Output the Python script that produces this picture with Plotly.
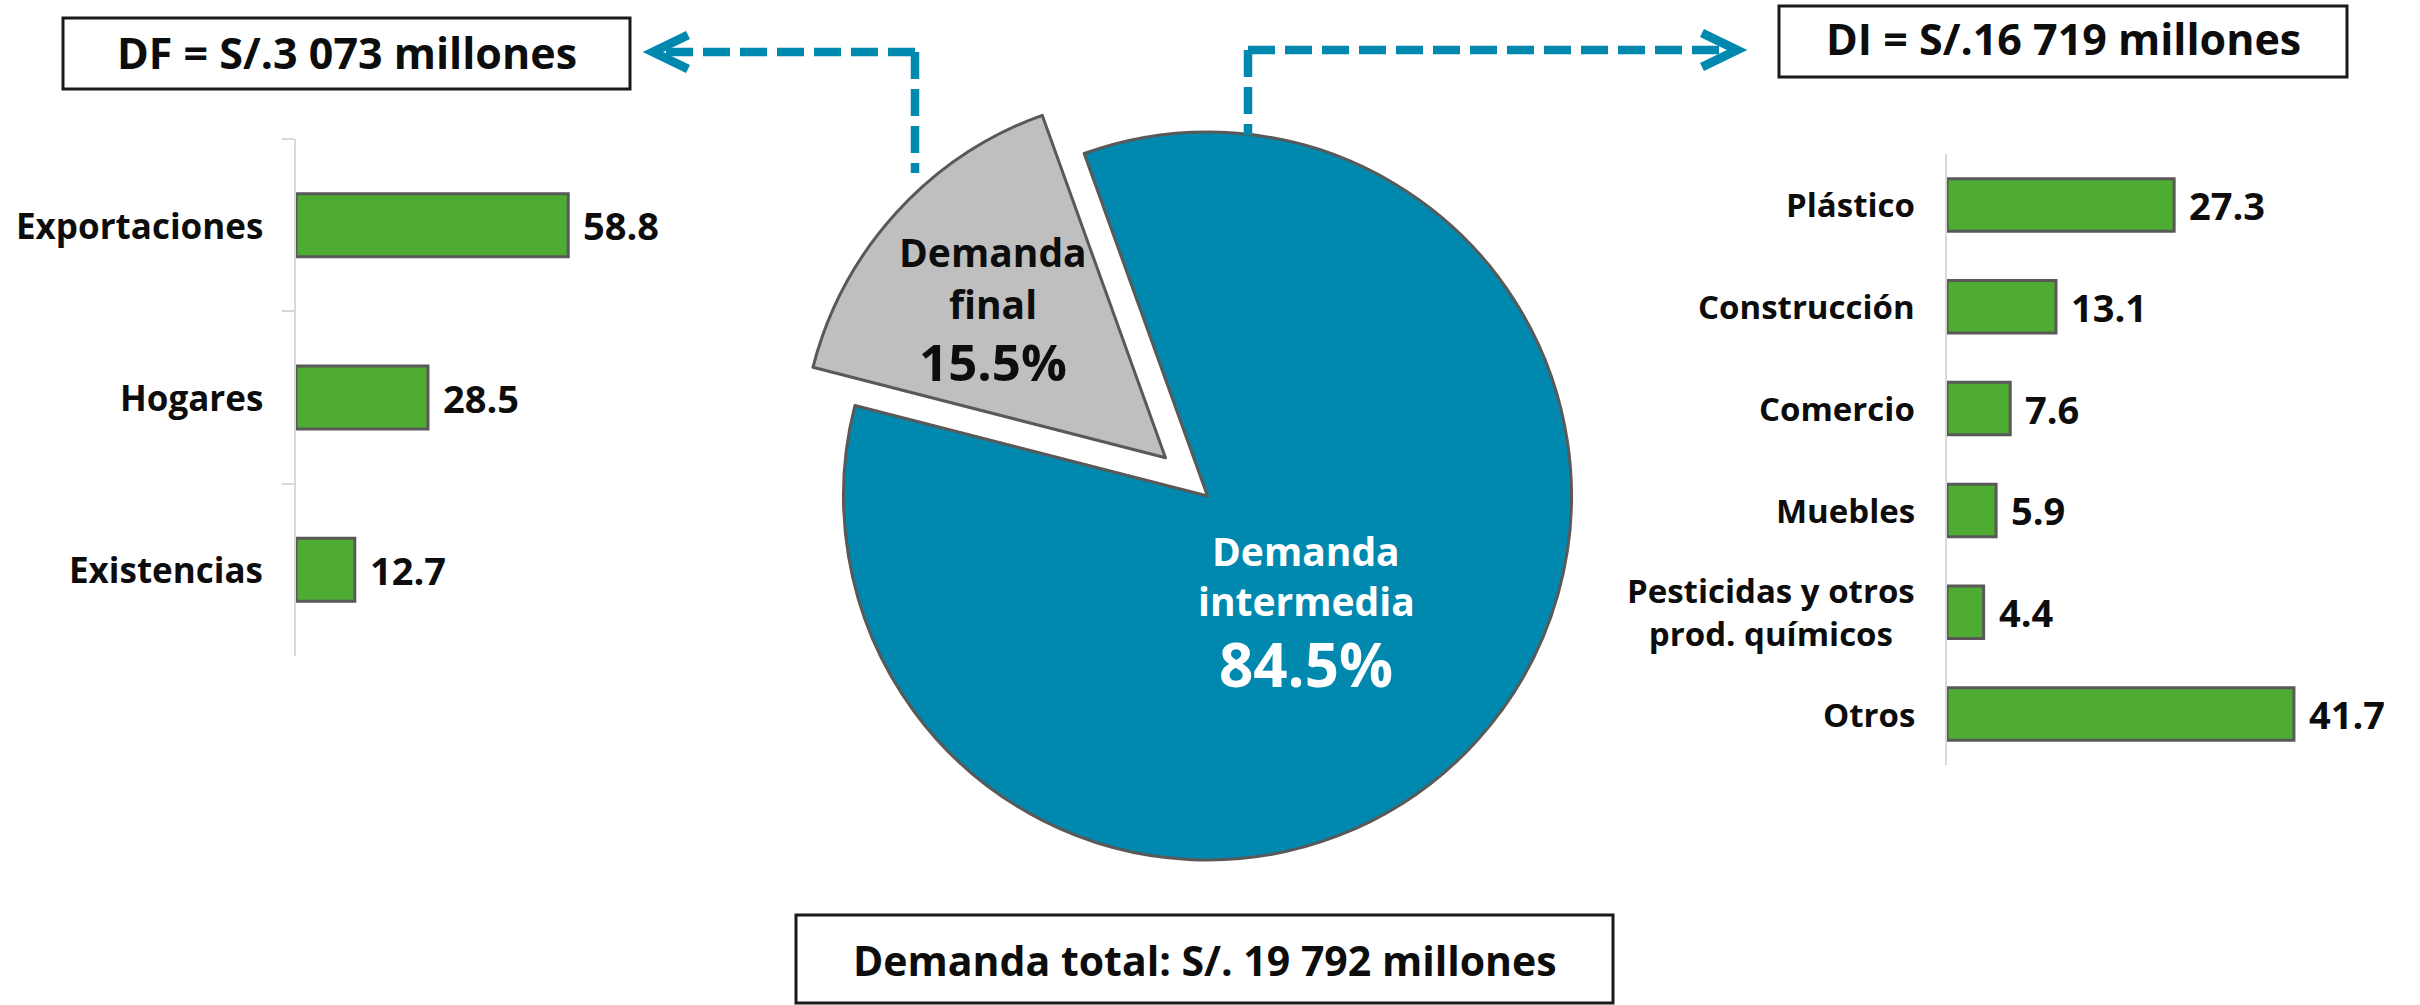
import plotly.graph_objects as go

# ---------------- data ----------------
df_categories = ["Exportaciones", "Hogares", "Existencias"]
df_values = [58.8, 28.5, 12.7]

di_categories = ["Plástico", "Construcción", "Comercio", "Muebles",
                 "Pesticidas y otros<br>prod. químicos", "Otros"]
di_values = [27.3, 13.1, 7.6, 5.9, 4.4, 41.7]

pie_labels = ["Demanda intermedia", "Demanda final"]
pie_values = [84.5, 15.5]
pie_texts = [["Demanda", "intermedia", "84.5%"], ["Demanda", "final", "15.5%"]]

box_df_text = "DF = S/.3 073 millones"
box_di_text = "DI = S/.16 719 millones"
box_total_text = "Demanda total: S/. 19 792 millones"

# ---------------- style ----------------
W, H = 2420, 1005
FONT = "Open Sans"
BLUE = "#0088AF"
GRAY = "#BFBFBF"
GREEN = "#4EAC33"
OUTLINE = "#595959"
AXIS = "#D9D9D9"
INK = "#0D0D0D"


def px(x):
    return x / W


def py(y):
    return 1 - y / H


fig = go.Figure()

# pie
pull = 0.156
r = 364
cx, cy = 1207.5, 496
half = r * (1 + pull)
fig.add_trace(go.Pie(
    labels=pie_labels, values=pie_values, sort=False, direction="clockwise",
    rotation=-19.8, pull=[0, pull], textinfo="none", hoverinfo="label+percent",
    marker=dict(colors=[BLUE, GRAY], line=dict(color=OUTLINE, width=3)),
    domain=dict(x=[px(cx - half), px(cx + half)], y=[py(cy + half), py(cy - half)]),
    showlegend=False,
))

# left bars (DF)
fig.add_trace(go.Bar(
    x=df_values, y=df_categories, orientation="h", xaxis="x", yaxis="y",
    width=0.366,
    marker=dict(color=GREEN, line=dict(color=OUTLINE, width=3)),
    showlegend=False,
))
# right bars (DI)
fig.add_trace(go.Bar(
    x=di_values, y=di_categories, orientation="h", xaxis="x2", yaxis="y2",
    width=0.516,
    marker=dict(color=GREEN, line=dict(color=OUTLINE, width=3)),
    showlegend=False,
))

L_X0, L_X1, L_SCALE = 296, 700, 4.63
R_X0, R_X1, R_SCALE = 1947, 2400, 8.32

annotations = []
VALUE_SIZE = 38
for c, v in zip(df_categories, df_values):
    annotations.append(dict(x=0, y=c, xref="x", yref="y", text=c, showarrow=False,
                            xanchor="right", yanchor="middle", xshift=-31, align="center",
                            font=dict(family=FONT, size=35, color=INK, weight="bold")))
    annotations.append(dict(x=v, y=c, xref="x", yref="y", text=f"{v:.1f}", showarrow=False,
                            xanchor="left", yanchor="middle", xshift=13,
                            font=dict(family=FONT, size=VALUE_SIZE, color=INK, weight="bold")))
for c, v in zip(di_categories, di_values):
    annotations.append(dict(x=0, y=c, xref="x2", yref="y2", text=c, showarrow=False,
                            xanchor="right", yanchor="middle", xshift=-30, align="center",
                            font=dict(family=FONT, size=33, color=INK, weight="bold")))
    annotations.append(dict(x=v, y=c, xref="x2", yref="y2", text=f"{v:.1f}", showarrow=False,
                            xanchor="left", yanchor="middle", xshift=13,
                            font=dict(family=FONT, size=VALUE_SIZE, color=INK, weight="bold")))

# pie labels
pie_label_pos = [
    (1306, [(550, 39), (600, 39), (664, 60)], "white"),
    (993, [(252, 39), (303, 39), (361, 51)], INK),
]
for (x, rows, col), lines in zip(pie_label_pos, pie_texts):
    for (yc, sz), t in zip(rows, lines):
        annotations.append(dict(x=px(x), y=py(yc), xref="paper", yref="paper", text=t,
                                showarrow=False, xanchor="center", yanchor="middle",
                                font=dict(family=FONT, size=sz, color=col, weight="bold")))

# boxes
boxes = [
    (63, 18, 630, 89, box_df_text, 52.5, 43),
    (1779, 6, 2347, 77, box_di_text, 39, 43),
    (796, 915, 1613, 1003, box_total_text, 960, 41),
]
shapes = []
for x0, y0, x1, y1, t, yc, sz in boxes:
    shapes.append(dict(type="rect", xref="paper", yref="paper",
                       x0=px(x0), x1=px(x1), y0=py(y1), y1=py(y0),
                       line=dict(color="#1A1A1A", width=3), fillcolor="white", layer="above"))
    annotations.append(dict(x=px((x0 + x1) / 2), y=py(yc), xref="paper", yref="paper", text=t,
                            showarrow=False, xanchor="center", yanchor="middle",
                            font=dict(family=FONT, size=sz, color=INK, weight="bold")))

# dashed connectors with chevron heads
DASH = "27px,10px"
LW = 8.5


def path(points):
    return "M " + " L ".join(f"{px(a):.6f},{py(b):.6f}" for a, b in points)


connectors = [
    # corner, vertical end, horizontal end, chevron
    ((915, 52), (915, 173), (660, 52), [(688, 35), (653, 52), (688, 69)]),
    ((1248, 50), (1248, 135), (1728, 50), [(1702, 33), (1737, 50), (1702, 67)]),
]
for corner, vend, hend, chev in connectors:
    for end in (vend, hend):
        shapes.append(dict(type="path", xref="paper", yref="paper",
                           path=path([corner, end]),
                           line=dict(color=BLUE, width=LW, dash=DASH)))
    shapes.append(dict(type="path", xref="paper", yref="paper",
                       path=path(chev), line=dict(color=BLUE, width=9)))

fig.update_layout(
    width=W, height=H, margin=dict(l=0, r=0, t=0, b=0),
    paper_bgcolor="white", plot_bgcolor="rgba(0,0,0,0)",
    xaxis=dict(domain=[px(L_X0), px(L_X1)], range=[0, (L_X1 - L_X0) / L_SCALE],
               visible=False, fixedrange=True),
    yaxis=dict(domain=[py(656), py(139)], anchor="x", type="category",
               categoryorder="array", categoryarray=df_categories, autorange=False,
               range=[len(df_categories) - 0.5, -0.5],
               showline=True, linecolor=AXIS, linewidth=2, ticks="outside",
               tickson="boundaries", ticklen=12, tickcolor=AXIS, tickwidth=2,
               showticklabels=False, showgrid=False, zeroline=False),
    xaxis2=dict(domain=[px(R_X0), px(R_X1)], range=[0, (R_X1 - R_X0) / R_SCALE],
                visible=False, anchor="y2"),
    yaxis2=dict(domain=[py(765), py(154)], anchor="x2", type="category",
                categoryorder="array", categoryarray=di_categories, autorange=False,
                range=[len(di_categories) - 0.5, -0.5],
                showline=True, linecolor=AXIS, linewidth=2, ticks="",
                showticklabels=False, showgrid=False, zeroline=False),
    annotations=annotations,
    shapes=shapes,
)

fig.write_html("out.html", config={"displayModeBar": False},
               post_script="document.body.style.margin='0';document.body.style.overflow='hidden';")
